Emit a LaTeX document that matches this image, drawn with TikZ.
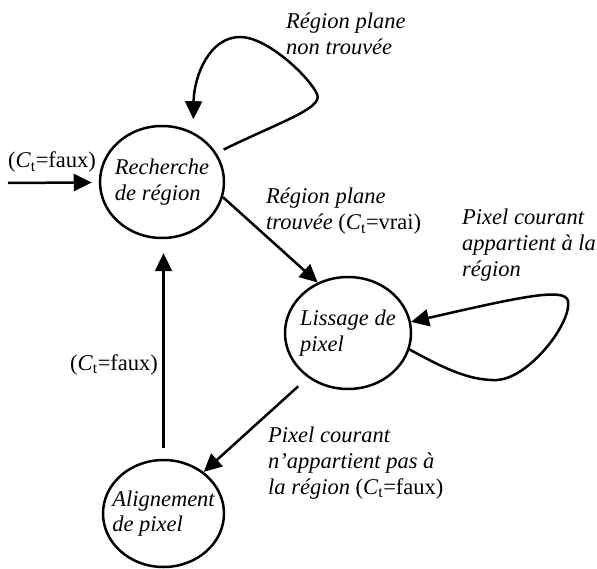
\documentclass[tikz,border=0pt]{standalone}
\usepackage{fontspec}
\setmainfont{Liberation Serif}
\usetikzlibrary{shapes.geometric,arrows.meta}
\begin{document}
\begin{tikzpicture}[x=1pt,y=-1pt,
  state/.style={ellipse,draw,line width=2.5pt,inner sep=-14pt,align=left,
    font=\fontsize{22.5}{25.5}\selectfont\itshape},
  arr/.style={line width=2.5pt,-{Triangle[length=18pt,width=17pt]}},
  lab/.style={anchor=base west,inner sep=0pt,align=left,
    font=\fontsize{22.5}{26}\selectfont}
]
\useasboundingbox (0,0) rectangle (597,569);
% states
\node[state,minimum width=124pt,minimum height=112pt] (rech) at (162,182) {Recherche\\de région};
\node[state,minimum width=126pt,minimum height=112pt] (liss) at (348,333) {Lissage de\\pixel};
\node[state,minimum width=121pt,minimum height=107pt] (alig) at (163.5,513.5) {Alignement\\de pixel};
% input
\coordinate (in) at (8,183);
\draw[arr,shorten >=7pt] (in) -- (rech);
% connectors
\draw[arr,shorten <=8pt,shorten >=13pt] (rech.28) .. controls (280,122) and (324,108) .. (317,94)
  .. controls (310,78) and (268,37) .. (240,37)
  .. controls (210,37) and (194,75) .. (rech.58);
\draw[arr] (rech.-14) -- (liss.121);
\draw[arr] (liss.-15) .. controls (440,366) and (468,381) .. (497,380)
  .. controls (530,378) and (572,322) .. (568,301)
  .. controls (565,287) and (520,297) .. (liss.10);
\draw[arr,shorten <=13pt] (liss.228) -- (alig.46);
\draw[arr,shorten <=11pt,shorten >=14pt] (alig.north) -- (alig.north |- rech.south);
% labels
\node[lab] (lin) at (8,168) {(\textit{C}\textsubscript{t}=faux)};
\node[lab,font=\fontsize{22.5}{26}\selectfont\itshape] (lnon) at (286,55) {Région plane\\non trouvée};
\node[lab] (ltrou) at (266,230) {\textit{Région plane}\\\textit{trouvée} (\textit{C}\textsubscript{t}=vrai)};
\node[lab,font=\fontsize{22.5}{26}\selectfont\itshape] (lapp) at (462,277) {Pixel courant\\appartient à la\\région};
\node[lab] (lnapp) at (268,494) {\textit{Pixel courant}\\\textit{n’appartient pas à}\\\textit{la région} (\textit{C}\textsubscript{t}=faux)};
\node[lab] (lret) at (70,370) {(\textit{C}\textsubscript{t}=faux)};
\end{tikzpicture}
\end{document}
